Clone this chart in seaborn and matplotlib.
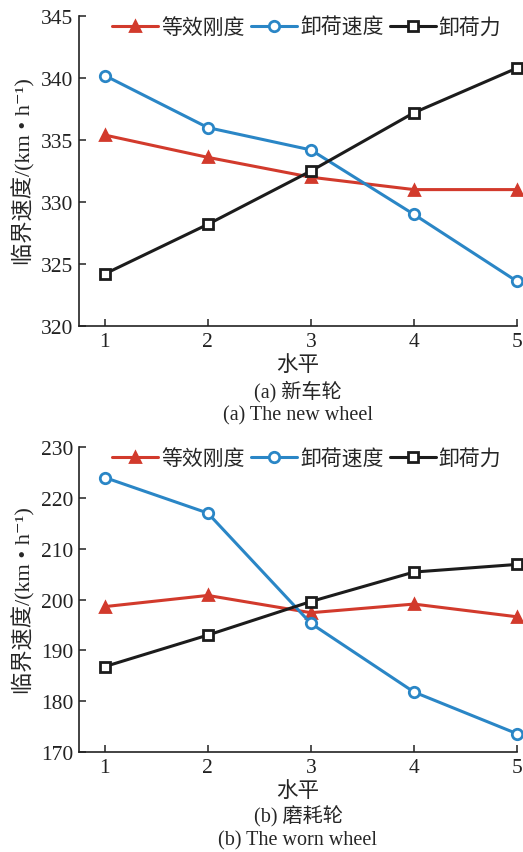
import matplotlib
matplotlib.use("Agg")
import matplotlib.pyplot as plt
import seaborn as sns
import pandas as pd

sns.set_theme(style="ticks")
plt.rcParams["font.family"] = ["Liberation Serif", "Noto Sans CJK SC", "DejaVu Serif"]
plt.rcParams["axes.unicode_minus"] = False

levels = [1, 2, 3, 4, 5]
series_names = ["等效刚度", "卸荷速度", "卸荷力"]

# 新车轮 critical speed (km/h)
new_stiffness = [335.4, 333.6, 332.0, 331.0, 331.0]
new_unload_speed = [340.2, 336.0, 334.2, 329.0, 323.6]
new_unload_force = [324.2, 328.2, 332.5, 337.2, 340.8]

# 磨耗轮 critical speed (km/h)
worn_stiffness = [198.6, 200.8, 197.4, 199.1, 196.6]
worn_unload_speed = [224.0, 217.0, 195.3, 181.8, 173.6]
worn_unload_force = [186.8, 193.0, 199.6, 205.4, 206.9]

new_yticks = [320, 325, 330, 335, 340, 345]
worn_yticks = [170, 180, 190, 200, 210, 220, 230]

colors = ["#d23a2c", "#2a86c6", "#1c1c1c"]
markers = ["^", "o", "s"]
faces = ["#d23a2c", "white", "white"]


def draw(ax, values, yticks, caption_cn, caption_en):
    df = pd.DataFrame({
        "水平": levels * 3,
        "速度": sum(values, []),
        "系列": [n for n in series_names for _ in levels],
    })
    for name, col, mk, fc in zip(series_names, colors, markers, faces):
        sub = df[df["系列"] == name]
        sns.lineplot(data=sub, x="水平", y="速度", ax=ax, color=col,
                     marker=mk, markersize=7.5, markerfacecolor=fc,
                     markeredgecolor=col, markeredgewidth=2.0,
                     linewidth=2.2, label=name, clip_on=False)
    ax.set_xlim(0.75, 5)
    ax.set_ylim(yticks[0], yticks[-1])
    ax.set_xticks(levels)
    ax.set_yticks(yticks)
    for s in ["top", "right"]:
        ax.spines[s].set_visible(False)
    for s in ["left", "bottom"]:
        ax.spines[s].set_color("#222222")
        ax.spines[s].set_linewidth(1.2)
    ax.tick_params(direction="in", length=5, width=1.1, labelsize=15.5,
                   colors="#222222", pad=4)
    ax.set_xlabel("水平", fontsize=15.5, labelpad=3)
    ax.set_ylabel("临界速度/(km • h⁻¹)", fontsize=16, labelpad=4)
    ax.legend(loc="upper center", bbox_to_anchor=(0.52, 1.02), ncol=3,
              frameon=False, fontsize=15, handlelength=2.2,
              handletextpad=0.15, columnspacing=0.3, borderaxespad=0)
    ax.text(0.5, -0.21, caption_cn, transform=ax.transAxes, ha="center",
            va="center", fontsize=14.5)
    ax.text(0.5, -0.288, caption_en, transform=ax.transAxes, ha="center",
            va="center", fontsize=14.5)


fig = plt.figure(figsize=(5.23, 8.53), dpi=100)
ax1 = fig.add_axes([79 / 523, 1 - 327 / 853, 438 / 523, 310 / 853])
ax2 = fig.add_axes([79 / 523, 1 - 753 / 853, 438 / 523, 305 / 853])

draw(ax1, [new_stiffness, new_unload_speed, new_unload_force], new_yticks,
     "(a) 新车轮", "(a) The new wheel")
draw(ax2, [worn_stiffness, worn_unload_speed, worn_unload_force], worn_yticks,
     "(b) 磨耗轮", "(b) The worn wheel")

fig.savefig("out.png", dpi=100)
